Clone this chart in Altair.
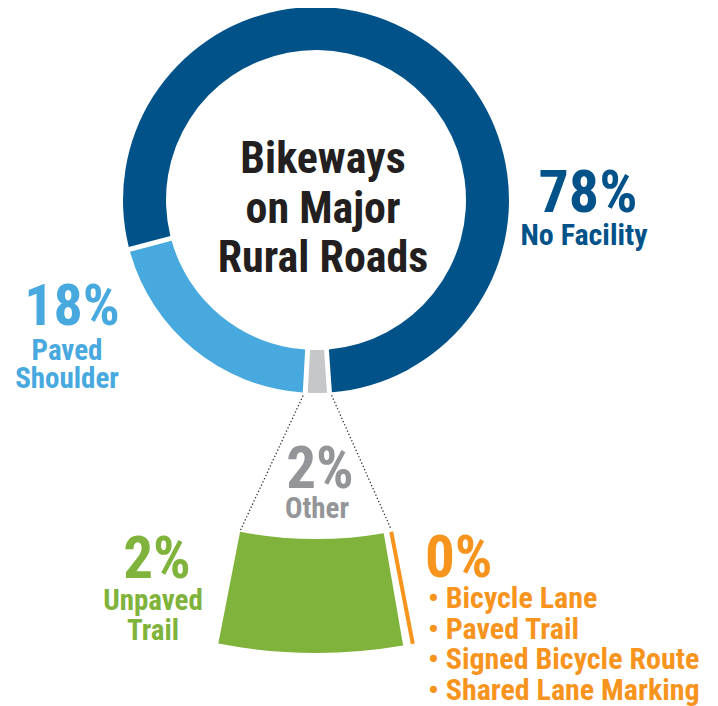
import math
import altair as alt
import pandas as pd

# ---------------- data ----------------
ring_labels = ["No Facility", "Other", "Paved Shoulder"]
ring_share = [78, 2, 20]                      # arc sizes as drawn in the ring
ring_colors = ["#02528A", "#C6C7C9", "#48A9DF"]

zoom_labels = ["Unpaved Trail", "Bicycle Lane / Paved Trail / Signed Route / Shared Lane"]
zoom_share = [2, 0]
zoom_colors = ["#80B33B", "#F7941E"]

title_lines = ["Bikeways", "on Major", "Rural Roads"]
pct_labels = ["78%", "18%", "2%", "2%", "0%"]
pct_colors = ["#02528A", "#48A9DF", "#939598", "#80B33B", "#F7941E"]
name_lines = [["No Facility"], ["Paved", "Shoulder"], ["Other"], ["Unpaved", "Trail"]]
bullet_items = ["Bicycle Lane", "Paved Trail", "Signed Bicycle Route", "Shared Lane Marking"]

# ---------------- layout ----------------
W, H = 702, 698
FONT = "Roboto Condensed, Liberation Sans Narrow, Arial Narrow, DejaVu Sans Condensed, Roboto, sans-serif"
TITLE_COLOR = "#231F20"

CX, CY = 308, 192          # ring centre
R_OUT, R_IN = 193, 150
START_DEG = 255.2          # where the first ring slice starts (clockwise from 12 o'clock)
PAD = 0.02

ZX, ZY = 308, 133          # centre of the enlarged sector
ZR_OUT, ZR_IN = 512, 398
Z_FROM, Z_TO = 191.0, 170.2
ORANGE_SHIFT = -1.1        # degrees

# text layout (x, baseline y, size, align)
title_pos = [(315, 165), (315, 215), (315, 264)]
title_size = 44
pct_pos = [(580, 204, 60, "center"), (64, 317, 58, "center"), (312, 480, 59, "center"),
           (149, 570, 59, "center"), (417, 569, 59, "left")]
name_pos = [[(576, 237)], [(59, 352), (59, 380)], [(309, 510)], [(145, 602), (145, 632)]]
name_sizes = [30, 29, 29, 29]
bullet_x, bullet_y0, bullet_dy = 420, 600, 30.7


def polar(cx, cy, r, deg):
    a = math.radians(deg)
    return cx + r * math.sin(a), cy - r * math.cos(a)


# ---------------- ring ----------------
ring = pd.DataFrame({"cat": ring_labels, "share": ring_share, "idx": range(len(ring_labels))})
start = math.radians(START_DEG)
donut = alt.Chart(ring).mark_arc(radius=R_OUT, radius2=R_IN, padAngle=PAD).encode(
    x=alt.value(CX), y=alt.value(CY),
    theta=alt.Theta("share:Q", stack=True,
                    scale=alt.Scale(domain=[0, sum(ring_share)], range=[start, start + 2 * math.pi])),
    order=alt.Order("idx:Q"),
    color=alt.Color("cat:N", scale=alt.Scale(domain=ring_labels, range=ring_colors), legend=None),
)

# ---------------- enlarged sector ----------------
zoom = pd.DataFrame({"cat": zoom_labels, "share": zoom_share, "idx": range(len(zoom_labels))})
zscale = alt.Scale(domain=[0, sum(zoom_share)], range=[math.radians(Z_FROM), math.radians(Z_TO)])
zbase = alt.Chart(zoom).transform_window(
    t_end="sum(share)", sort=[alt.SortField("idx")]
).transform_calculate(t_start="datum.t_end - datum.share")

green = zbase.transform_filter(alt.datum.idx == 0).mark_arc(
    radius=ZR_OUT, radius2=ZR_IN, color=zoom_colors[0]
).encode(
    x=alt.value(ZX), y=alt.value(ZY),
    theta=alt.Theta("t_start:Q", scale=zscale), theta2="t_end:Q",
)
orange = zbase.transform_filter(alt.datum.idx == 1).mark_arc(
    radius=ZR_OUT, radius2=ZR_IN, fill=zoom_colors[1], stroke=zoom_colors[1], strokeWidth=4,
    thetaOffset=math.radians(ORANGE_SHIFT), theta2Offset=math.radians(ORANGE_SHIFT),
).encode(
    x=alt.value(ZX), y=alt.value(ZY),
    theta=alt.Theta("t_start:Q", scale=zscale), theta2="t_end:Q",
)

# ---------------- dotted connectors ----------------
gray_a0 = START_DEG + 360 * sum(ring_share[:1]) / sum(ring_share)
gray_a1 = START_DEG + 360 * sum(ring_share[:2]) / sum(ring_share)
pad_deg = math.degrees(PAD) / 2
l0 = polar(CX, CY, R_OUT + 3, gray_a1 + pad_deg)
r0 = polar(CX, CY, R_OUT + 3, gray_a0 - pad_deg)
l1 = polar(ZX, ZY, ZR_IN - 1, Z_FROM)
r1 = polar(ZX, ZY, ZR_IN - 4, Z_TO + ORANGE_SHIFT)
conn = pd.DataFrame({"x": [l0[0], r0[0]], "y": [l0[1], r0[1]],
                     "x2": [l1[0], r1[0]], "y2": [l1[1], r1[1]]})
connectors = alt.Chart(conn).mark_rule(color="#333333", strokeWidth=1.3, strokeDash=[1.3, 2.2]).encode(
    x=alt.X("x:Q", scale=None), y=alt.Y("y:Q", scale=None),
    x2="x2:Q", y2="y2:Q",
)

# ---------------- texts ----------------
rows = []
for line, (x, y) in zip(title_lines, title_pos):
    rows.append(dict(text=line, x=x, y=y, size=title_size, color=TITLE_COLOR, align="center"))
for lab, col, (x, y, s, al) in zip(pct_labels, pct_colors, pct_pos):
    rows.append(dict(text=lab, x=x, y=y, size=s, color=col, align=al))
for lines, col, poss, s in zip(name_lines, pct_colors[:4], name_pos, name_sizes):
    for line, (x, y) in zip(lines, poss):
        rows.append(dict(text=line, x=x, y=y, size=s, color=col, align="center"))
for i, item in enumerate(bullet_items):
    rows.append(dict(text="\u2022 " + item, x=bullet_x, y=bullet_y0 + i * bullet_dy,
                     size=30, color=pct_colors[4], align="left"))
txt = pd.DataFrame(rows)


def text_layer(al):
    return alt.Chart(txt).transform_filter(alt.datum.align == al).mark_text(
        font=FONT, fontWeight="bold", align=al, baseline="alphabetic"
    ).encode(
        x=alt.X("x:Q", scale=None), y=alt.Y("y:Q", scale=None),
        text="text:N",
        color=alt.Color("color:N", scale=None),
        size=alt.Size("size:Q", scale=None),
    )


chart = alt.layer(
    donut, connectors, green, orange, text_layer("center"), text_layer("left")
).resolve_scale(theta="independent").properties(
    width=W, height=H, padding=0, autosize=alt.AutoSizeParams(type="none"),
    background="white",
).configure_view(stroke=None)

chart.save("out.html", embed_options={"renderer": "svg", "actions": False})
